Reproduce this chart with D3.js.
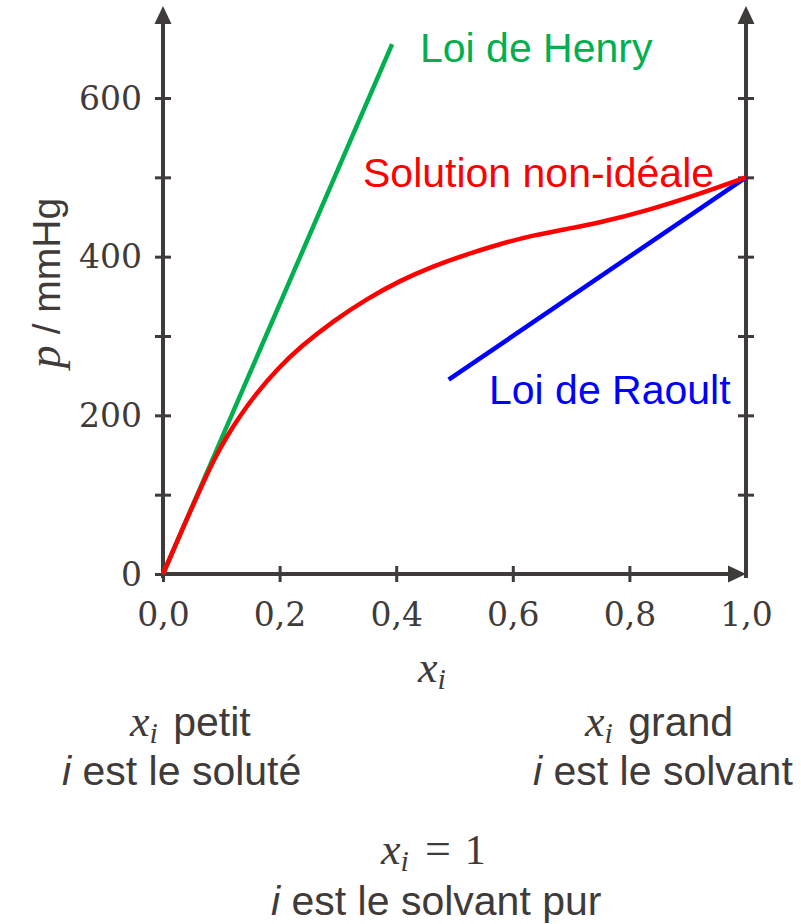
<!DOCTYPE html>
<html>
<head>
<meta charset="utf-8">
<script src="https://cdn.jsdelivr.net/npm/d3@7"></script>
<style>
  html, body { margin: 0; padding: 0; background: #fff; }
  svg { display: block; }
</style>
</head>
<body>
<svg id="chart" width="801" height="924"></svg>
<script>
// ---- data ----
const xTicks = [0, 0.2, 0.4, 0.6, 0.8, 1.0];
const xTickLabels = ["0,0", "0,2", "0,4", "0,6", "0,8", "1,0"];
const yTicks = [0, 100, 200, 300, 400, 500, 600];
const yTickLabels = ["0", "", "200", "", "400", "", "600"];

const henryX = [0, 0.393];
const henryP = [0, 668];

const raoultX = [0.49, 1.0];
const raoultP = [245, 500];

const realX = [0, 0.02, 0.04, 0.07, 0.09, 0.11, 0.129, 0.158, 0.197, 0.235, 0.292, 0.35, 0.407, 0.463, 0.521, 0.578, 0.635, 0.693, 0.75, 0.835, 0.92, 1.0];
const realP = [0, 34, 68, 117, 148, 174, 196, 226, 259, 286, 319, 347, 370, 388, 403, 416, 427, 435, 443, 459, 479, 500];

// ---- layout ----
const svg = d3.select("#chart");
const axisColor = "#3f3b3a";
const x = d3.scaleLinear().domain([0, 1]).range([163, 746]);
const y = d3.scaleLinear().domain([0, 600]).range([574, 98]);
const yTop = 716;

// tick marks & labels via d3 axes
const yAxis = d3.axisLeft(y).tickValues(yTicks).tickFormat((d, i) => yTickLabels[i]).tickSize(8).tickPadding(13);
const gy = svg.append("g").attr("transform", `translate(${x(0)},0)`).call(yAxis);
gy.select(".domain").remove();
gy.selectAll(".tick line").attr("x1", -8).attr("x2", 8).attr("stroke", axisColor).attr("stroke-width", 3);
gy.selectAll(".tick text").attr("font-family", "DejaVu Serif").attr("font-size", 33).attr("fill", axisColor).attr("dy", "0.34em");

const yAxisR = d3.axisRight(y).tickValues(yTicks.filter(d => d > 0)).tickFormat("").tickSize(8);
const gyr = svg.append("g").attr("transform", `translate(${x(1)},0)`).call(yAxisR);
gyr.select(".domain").remove();
gyr.selectAll(".tick line").attr("x1", -8).attr("x2", 8).attr("stroke", axisColor).attr("stroke-width", 3);

const xAxis = d3.axisBottom(x).tickValues(xTicks).tickFormat((d, i) => xTickLabels[i]).tickSize(8).tickPadding(21);
const gx = svg.append("g").attr("transform", `translate(0,${y(0)})`).call(xAxis);
gx.select(".domain").remove();
gx.selectAll(".tick line").attr("y1", -8).attr("y2", 8).attr("stroke", axisColor).attr("stroke-width", 3)
  .filter(d => d === 1).remove();
gx.selectAll(".tick text").attr("font-family", "DejaVu Serif").attr("font-size", 33).attr("fill", axisColor);

// axis lines with arrows
const axes = svg.append("g").attr("stroke", axisColor).attr("stroke-width", 4).attr("fill", "none");
axes.append("line").attr("x1", x(0)).attr("x2", x(0)).attr("y1", y(0) + 4).attr("y2", y(yTop) + 16);
axes.append("line").attr("x1", x(1)).attr("x2", x(1)).attr("y1", y(0) + 4).attr("y2", y(yTop) + 16);
axes.append("line").attr("x1", x(0)).attr("x2", x(1) - 14).attr("y1", y(0)).attr("y2", y(0));
const arrows = svg.append("g").attr("fill", axisColor);
[x(0), x(1)].forEach(ax => {
  const ty = y(yTop);
  arrows.append("path").attr("d", `M${ax},${ty} L${ax - 8.5},${ty + 18} L${ax + 8.5},${ty + 18} Z`);
});
arrows.append("path").attr("d", `M${x(1)},${y(0)} L${x(1) - 18},${y(0) - 8.5} L${x(1) - 18},${y(0) + 8.5} Z`);

// data lines
const line = d3.line().x(d => x(d[0])).y(d => y(d[1]));
const lineCurve = d3.line().x(d => x(d[0])).y(d => y(d[1])).curve(d3.curveBasis);

svg.append("path").datum(henryX.map((v, i) => [v, henryP[i]]))
  .attr("d", line).attr("fill", "none").attr("stroke", "#00b050").attr("stroke-width", 4.5);
svg.append("path").datum(raoultX.map((v, i) => [v, raoultP[i]]))
  .attr("d", line).attr("fill", "none").attr("stroke", "#0000ff").attr("stroke-width", 4.5);
svg.append("path").datum(realX.map((v, i) => [v, realP[i]]))
  .attr("d", lineCurve).attr("fill", "none").attr("stroke", "#ff0000").attr("stroke-width", 4.5);

// curve labels
const sans = "Liberation Sans, Arial, sans-serif";
const serif = "Liberation Serif, serif";
const fs = 41;
svg.append("text").attr("x", 420).attr("y", 62).attr("font-family", sans).attr("font-size", fs).attr("fill", "#00b050").text("Loi de Henry");
svg.append("text").attr("x", 363).attr("y", 187).attr("font-family", sans).attr("font-size", fs).attr("fill", "#ff0000").text("Solution non-idéale");
svg.append("text").attr("x", 489).attr("y", 404).attr("font-family", sans).attr("font-size", fs).attr("fill", "#0000ff").text("Loi de Raoult");

// y label
const yl = svg.append("text").attr("transform", "translate(60,283) rotate(-90)").attr("text-anchor", "middle").attr("fill", axisColor);
yl.append("tspan").attr("font-family", serif).attr("font-style", "italic").attr("font-size", 46).text("p");
yl.append("tspan").attr("font-family", sans).attr("font-size", 39).text(" / mmHg");

// helper for x_i math
const ink = "#3f3b3a";
function mathXi(t) {
  t.append("tspan").attr("font-family", serif).attr("font-style", "italic").attr("font-size", 44).text("x");
  t.append("tspan").attr("font-family", serif).attr("font-style", "italic").attr("font-size", 30).attr("dy", 7).text("i");
}

// x label
const xl = svg.append("text").attr("x", 418).attr("y", 682).attr("fill", ink);
mathXi(xl);

// bottom annotations
const t1 = svg.append("text").attr("x", 130).attr("y", 736).attr("fill", ink);
mathXi(t1);
t1.append("tspan").attr("dy", -7).attr("dx", 4).attr("font-family", sans).attr("font-size", fs).text(" petit");
const t2 = svg.append("text").attr("x", 62).attr("y", 785).attr("fill", ink).attr("font-family", sans).attr("font-size", fs);
t2.append("tspan").attr("font-style", "italic").text("i");
t2.append("tspan").text(" est le soluté");

const t3 = svg.append("text").attr("x", 585).attr("y", 736).attr("fill", ink);
mathXi(t3);
t3.append("tspan").attr("dy", -7).attr("dx", 4).attr("font-family", sans).attr("font-size", fs).text(" grand");
const t4 = svg.append("text").attr("x", 533).attr("y", 785).attr("fill", ink).attr("font-family", sans).attr("font-size", fs);
t4.append("tspan").attr("font-style", "italic").text("i");
t4.append("tspan").text(" est le solvant");

const t5 = svg.append("text").attr("x", 381).attr("y", 864).attr("fill", ink);
mathXi(t5);
t5.append("tspan").attr("dy", -7).attr("dx", 16).attr("font-family", serif).attr("font-size", 46).text("=");
t5.append("tspan").attr("dx", 14).attr("font-family", serif).attr("font-size", 42).text("1");
const t6 = svg.append("text").attr("x", 271).attr("y", 914.5).attr("fill", ink).attr("font-family", sans).attr("font-size", fs);
t6.append("tspan").attr("font-style", "italic").text("i");
t6.append("tspan").text(" est le solvant pur");
</script>
</body>
</html>
